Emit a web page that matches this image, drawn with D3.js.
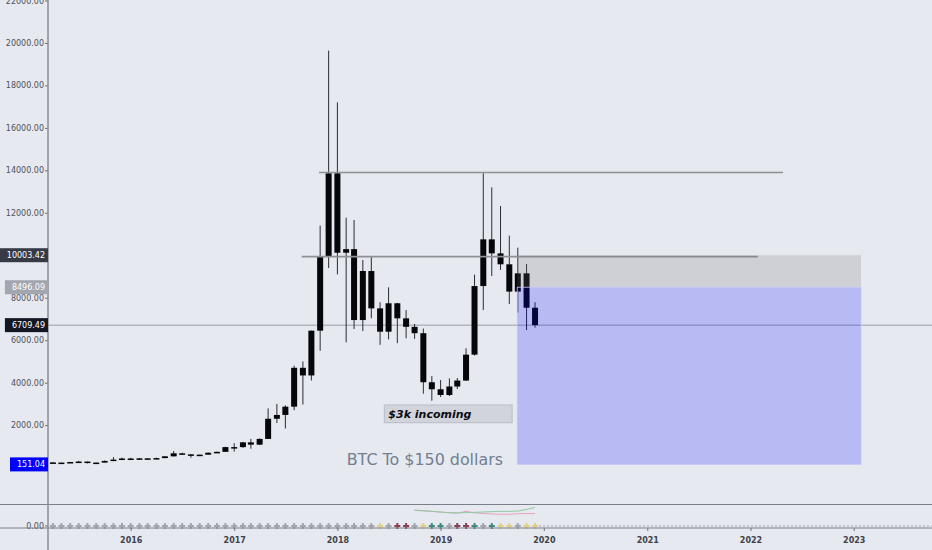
<html>
<head>
<style>
    body { margin: 0; background: #e6e9f0; overflow: hidden; }
    svg { display: block; }
    text { font-family: "DejaVu Sans", sans-serif; }
</style>
</head>
<body>

<script src="https://cdn.jsdelivr.net/npm/d3@7/dist/d3.min.js"></script>
<script>

    // monthly BTCUSD candles
    var months = ["2015-04", "2015-05", "2015-06", "2015-07", "2015-08", "2015-09", "2015-10", "2015-11", "2015-12",
        "2016-01", "2016-02", "2016-03", "2016-04", "2016-05", "2016-06", "2016-07", "2016-08", "2016-09", "2016-10", "2016-11", "2016-12",
        "2017-01", "2017-02", "2017-03", "2017-04", "2017-05", "2017-06", "2017-07", "2017-08", "2017-09", "2017-10", "2017-11", "2017-12",
        "2018-01", "2018-02", "2018-03", "2018-04", "2018-05", "2018-06", "2018-07", "2018-08", "2018-09", "2018-10", "2018-11", "2018-12",
        "2019-01", "2019-02", "2019-03", "2019-04", "2019-05", "2019-06", "2019-07", "2019-08", "2019-09", "2019-10", "2019-11", "2019-12"];
    var opens = [244, 236, 230, 263, 284, 230, 236, 314, 377,
        430, 368, 437, 416, 448, 531, 673, 624, 575, 609, 698, 742,
        966, 965, 1190, 1080, 1350, 2300, 2480, 2870, 4700, 4340, 6450, 9940,
        13860, 10120, 10290, 6950, 9260, 7500, 6400, 7740, 7030, 6630, 6330, 4020,
        3690, 3420, 3820, 4100, 5320, 8550, 10750, 10090, 9575, 8290, 9150, 7530];
    var highs = [262, 247, 268, 317, 285, 248, 337, 495, 469,
        462, 448, 439, 468, 548, 780, 700, 630, 610, 720, 755, 980,
        1150, 1210, 1350, 1380, 2790, 3000, 2930, 4800, 5000, 6450, 11400, 19640,
        17200, 11770, 11660, 9780, 9960, 7790, 8490, 7760, 7420, 6765, 6550, 4310,
        4125, 4200, 4220, 5620, 9090, 13860, 13200, 12320, 10925, 10360, 9590, 7790];
    var lows = [214, 228, 218, 253, 199, 226, 236, 306, 350,
        350, 365, 393, 410, 441, 520, 600, 465, 570, 605, 682, 740,
        750, 930, 890, 1060, 1350, 2100, 1840, 2700, 2970, 4100, 5500, 9400,
        9100, 5900, 6530, 6430, 7030, 5780, 6040, 5860, 6090, 6060, 3480, 3150,
        3325, 3370, 3700, 4080, 5280, 7420, 9025, 9310, 7705, 7300, 6480, 6590];
    var closes = [236, 230, 263, 284, 230, 236, 314, 377, 430,
        368, 437, 416, 448, 531, 673, 624, 575, 609, 698, 742, 966,
        965, 1190, 1080, 1350, 2300, 2480, 2870, 4700, 4340, 6450, 9940, 13860,
        10120, 10290, 6950, 9260, 7500, 6400, 7740, 7030, 6630, 6330, 4020, 3690,
        3420, 3820, 4100, 5320, 8550, 10750, 10090, 9575, 8290, 9150, 7530, 6709.49];

    // signal markers in the lower pane, one per month
    var signals = ["n", "n", "n", "n", "n", "n", "n", "n", "n",
        "n", "n", "n", "n", "n", "n", "n", "n", "n", "n", "n", "n",
        "n", "n", "n", "n", "n", "n", "n", "n", "n", "n", "n", "n",
        "n", "n", "n", "n", "n", "y", "n", "m", "m", "n", "y", "t",
        "t", "n", "m", "m", "t", "n", "t", "y", "y", "n", "y", "y"];
    var signalColor = {n: "#a3a6ae", y: "#e2cf86", m: "#8e3e52", t: "#3f8a80"};

    // oscillator lines in the lower pane
    var oscMonths = ["2018-10", "2018-11", "2018-12", "2019-01", "2019-02", "2019-03", "2019-04", "2019-05",
        "2019-06", "2019-07", "2019-08", "2019-09", "2019-10", "2019-11", "2019-12"];
    var oscFast = [18, 17.5, 17, 16.3, 15.7, 15.5, 15.7, 16, 16.3, 16.7, 17, 17, 17.3, 19, 21];
    var oscSlow = [18.3, 17.7, 17, 16.2, 15.5, 15, 17.2, 15.4, 14.8, 14.3, 14, 14, 14.6, 14.7, 14.7];

    var priceTicks = [2000, 4000, 6000, 8000, 10000, 12000, 14000, 16000, 18000, 20000, 22000];
    var yearTicks = ["2016", "2017", "2018", "2019", "2020", "2021", "2022", "2023"];

    // drawings
    var lastPrice = 6709.49;
    var levels = [
        {price: 13900, from: "2017-10-28", to: "2022-04-26"},
        {price: 9935, from: "2017-08-28", to: "2022-01-27"}
    ];
    var position = {from: "2019-09-29", to: "2023-01-27", entry: 8496.09, stop: 10003.42, target: 151.04};
    var note = {from: "2018-06-16", to: "2019-09-11", top: 2950, bottom: 2115, text: "$3k incoming"};
    var caption = {at: "2018-02-03", price: 122, text: "BTC To $150 dollars"};

    var width = 932,
        height = 550,
        axisX = 48,
        paneBottom = 504.5,
        oscBottom = 528;

    var parseMonth = d3.timeParse("%Y-%m"),
        parseDay = d3.timeParse("%Y-%m-%d");

    var candles = months.map(function (m, i) {
        return {date: parseMonth(m), o: opens[i], h: highs[i], l: lows[i], c: closes[i], s: signals[i]};
    });

    var x = d3.scaleTime()
        .domain([new Date(2016, 0, 1), new Date(2023, 0, 1)])
        .range([130.7, 853.7]);

    var y = d3.scaleLinear()
        .domain([0, 22000])
        .range([467.6, 0.5]);

    var yOsc = d3.scaleLinear()
        .domain([0, 24])
        .range([oscBottom, paneBottom]);

    var svg = d3.select("body").append("svg").attr("width", width).attr("height", height);

    svg.append("rect").attr("width", width).attr("height", height).attr("fill", "#e6e9f0");

    svg.append("clipPath").attr("id", "pane")
        .append("rect").attr("x", axisX).attr("y", 0).attr("width", width - axisX).attr("height", paneBottom);

    var pane = svg.append("g").attr("clip-path", "url(#pane)");

    // last price line
    pane.append("line")
        .attr("x1", axisX).attr("x2", width)
        .attr("y1", y(lastPrice)).attr("y2", y(lastPrice))
        .attr("stroke", "#9a9ca4").attr("stroke-width", 1);

    // candles
    var candle = pane.append("g").selectAll("g")
        .data(candles)
        .enter().append("g")
        .attr("transform", function (d) {
            return "translate(" + x(d.date) + ",0)";
        });

    candle.append("line")
        .attr("y1", function (d) { return y(d.h); })
        .attr("y2", function (d) { return y(d.l); })
        .attr("stroke", "#2a2d35").attr("stroke-width", 1);

    candle.append("rect")
        .attr("x", -3)
        .attr("width", 6)
        .attr("y", function (d) { return y(Math.max(d.o, d.c)); })
        .attr("height", function (d) { return Math.max(1.5, Math.abs(y(d.o) - y(d.c))); })
        .attr("fill", "#05060a");

    // horizontal levels
    pane.selectAll(".level")
        .data(levels)
        .enter().append("line")
        .attr("x1", function (d) { return x(parseDay(d.from)); })
        .attr("x2", function (d) { return x(parseDay(d.to)); })
        .attr("y1", function (d) { return y(d.price); })
        .attr("y2", function (d) { return y(d.price); })
        .attr("stroke", "#8f9197").attr("stroke-width", 1.6);

    // short position
    var px1 = x(parseDay(position.from)),
        px2 = x(parseDay(position.to));

    pane.append("rect")
        .attr("x", px1).attr("width", px2 - px1)
        .attr("y", y(position.stop)).attr("height", y(position.entry) - y(position.stop))
        .attr("fill", "#707070").attr("fill-opacity", 0.2);

    pane.append("rect")
        .attr("x", px1).attr("width", px2 - px1)
        .attr("y", y(position.entry)).attr("height", y(position.target) - y(position.entry))
        .attr("fill", "#0000ff").attr("fill-opacity", 0.2)
        .attr("stroke", "#c8caf6").attr("stroke-width", 0.8);

    // notes
    var nx1 = x(parseDay(note.from)),
        nx2 = x(parseDay(note.to));

    pane.append("rect")
        .attr("x", nx1).attr("width", nx2 - nx1)
        .attr("y", y(note.top)).attr("height", y(note.bottom) - y(note.top))
        .attr("fill", "#d1d4db").attr("stroke", "#b9bdc6").attr("stroke-width", 1);

    pane.append("text")
        .attr("x", nx1 + 4)
        .attr("y", (y(note.top) + y(note.bottom)) / 2 + 4)
        .attr("font-size", 11)
        .attr("font-weight", "bold")
        .attr("font-style", "italic")
        .attr("fill", "#0b0c10")
        .text(note.text);

    pane.append("text")
        .attr("x", x(parseDay(caption.at)))
        .attr("y", y(caption.price))
        .attr("font-size", 15.9)
        .attr("fill", "#717f91")
        .text(caption.text);

    // lower pane
    svg.append("line")
        .attr("x1", 0).attr("x2", width)
        .attr("y1", paneBottom).attr("y2", paneBottom)
        .attr("stroke", "#7c7f87").attr("stroke-width", 1);

    var lastX = x(candles[candles.length - 1].date);

    svg.append("line")
        .attr("x1", lastX + 4).attr("x2", width)
        .attr("y1", yOsc(0) - 2).attr("y2", yOsc(0) - 2)
        .attr("stroke", "#a3a6ae").attr("stroke-dasharray", "2,2");

    var oscLine = d3.line()
        .x(function (d) { return x(parseMonth(d[0])); })
        .y(function (d) { return yOsc(d[1]); });

    svg.append("path")
        .datum(oscMonths.map(function (m, i) { return [m, oscSlow[i]]; }))
        .attr("d", oscLine)
        .attr("fill", "none").attr("stroke", "#e6a3ba").attr("stroke-width", 1);

    svg.append("path")
        .datum(oscMonths.map(function (m, i) { return [m, oscFast[i]]; }))
        .attr("d", oscLine)
        .attr("fill", "none").attr("stroke", "#90c9a0").attr("stroke-width", 1);

    svg.append("g").selectAll("path")
        .data(candles)
        .enter().append("path")
        .attr("d", d3.symbol().type(d3.symbolCross).size(20))
        .attr("transform", function (d) {
            return "translate(" + x(d.date) + "," + (yOsc(0) - 2) + ")";
        })
        .attr("fill", function (d) { return signalColor[d.s]; });

    // axes
    var yAxis = svg.append("g")
        .attr("transform", "translate(" + axisX + ",0)")
        .call(d3.axisLeft(y).tickValues(priceTicks).tickSize(3).tickPadding(1).tickFormat(d3.format(".2f")));

    var xAxis = svg.append("g")
        .attr("transform", "translate(0," + oscBottom + ")")
        .call(d3.axisBottom(x).tickValues(yearTicks.map(function (d) { return new Date(+d, 0, 1); }))
            .tickSize(3).tickPadding(6).tickFormat(d3.timeFormat("%Y")));

    var zeroAxis = svg.append("g")
        .attr("transform", "translate(" + axisX + ",0)")
        .call(d3.axisLeft(yOsc).tickValues([0]).tickSize(3).tickPadding(1).tickFormat(d3.format(".2f")));
    zeroAxis.select(".tick").attr("transform", "translate(0," + (yOsc(0) - 2) + ")");

    [yAxis, xAxis, zeroAxis].forEach(function (a) {
        a.select(".domain").remove();
        a.selectAll("line").attr("stroke", "#6d7078");
        a.selectAll("text").attr("fill", "#4f525a").attr("font-size", 8)
            .attr("font-family", "DejaVu Sans, sans-serif");
    });
    xAxis.selectAll("text").attr("font-weight", "bold").attr("fill", "#3f424a");

    svg.append("line")
        .attr("x1", 0).attr("x2", width)
        .attr("y1", oscBottom).attr("y2", oscBottom)
        .attr("stroke", "#7c7f87").attr("stroke-width", 1);

    svg.append("line")
        .attr("x1", axisX).attr("x2", axisX)
        .attr("y1", 0).attr("y2", height)
        .attr("stroke", "#8a8d95").attr("stroke-width", 1.5);

    // price labels on the scale
    var priceLabels = [
        {value: position.stop, fill: "#363a45"},
        {value: position.entry, fill: "#a3a6af"},
        {value: lastPrice, fill: "#131722"},
        {value: position.target, fill: "#0000ff"}
    ];

    var label = svg.append("g").selectAll("g")
        .data(priceLabels)
        .enter().append("g")
        .attr("transform", function (d) {
            return "translate(0," + y(d.value) + ")";
        });

    label.append("rect")
        .attr("y", -7).attr("height", 14)
        .attr("fill", function (d) { return d.fill; });

    label.append("text")
        .attr("x", 45)
        .attr("dy", "0.35em")
        .attr("text-anchor", "end")
        .attr("font-size", 8)
        .attr("fill", "#ffffff")
        .text(function (d) { return d3.format(".2f")(d.value); });

    label.each(function () {
        var g = d3.select(this),
            w = g.select("text").node().getComputedTextLength();
        g.select("rect").attr("x", 45 - w - 7).attr("width", w + 10);
    });

</script>
</body>
</html>
